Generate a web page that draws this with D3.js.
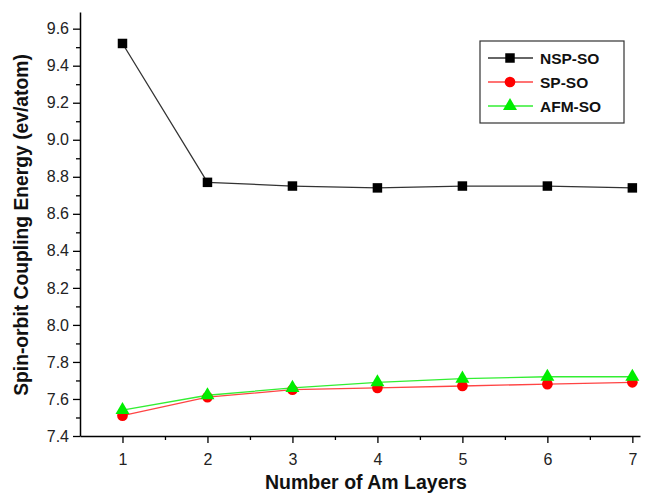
<!DOCTYPE html>
<html><head><meta charset="utf-8">
<script src="https://cdn.jsdelivr.net/npm/d3@7"></script>
<style>body{margin:0;background:#fff}svg{display:block}text{font-family:"Liberation Sans",Arial,sans-serif}</style>
</head><body><svg id="c" width="649" height="499"></svg>
<script>
const layers = [1,2,3,4,5,6,7];
const nspSO = [9.52, 8.77, 8.75, 8.74, 8.75, 8.75, 8.74];
const spSO  = [7.51, 7.61, 7.65, 7.66, 7.67, 7.68, 7.69];
const afmSO = [7.54, 7.62, 7.66, 7.69, 7.71, 7.72, 7.72];
const xTicks = [1,2,3,4,5,6,7];
const yTicks = [7.4,7.6,7.8,8.0,8.2,8.4,8.6,8.8,9.0,9.2,9.4,9.6];
const seriesNames = ["NSP-SO","SP-SO","AFM-SO"];
const seriesColors = ["#000000","#ff0000","#00ee00"];
const lineColors = ["#333333","#ff4444","#33ee33"];

const svg = d3.select("#c");
const L=80, R=640, T=12, B=436;
const x = d3.scaleLinear().domain([0.5,7.09]).range([L,R]);
const y = d3.scaleLinear().domain([7.4,9.69]).range([B,T]);

svg.append("g").attr("transform",`translate(0,${B})`)
  .call(d3.axisBottom(x).tickValues(xTicks).tickFormat(d3.format("d")).tickSize(7).tickSizeOuter(0).tickPadding(11));
svg.append("g").attr("transform",`translate(0,${B})`)
  .call(d3.axisBottom(x).tickValues([1.5,2.5,3.5,4.5,5.5,6.5]).tickFormat("").tickSize(4).tickSizeOuter(0))
  .select(".domain").remove();
svg.append("g").attr("transform",`translate(${L},0)`)
  .call(d3.axisLeft(y).tickValues(yTicks).tickFormat(d3.format(".1f")).tickSize(7).tickSizeOuter(0).tickPadding(4));
svg.append("g").attr("transform",`translate(${L},0)`)
  .call(d3.axisLeft(y).tickValues(d3.range(7.5,9.6,0.2)).tickFormat("").tickSize(4).tickSizeOuter(0))
  .select(".domain").remove();
svg.selectAll(".domain").attr("stroke","#000").attr("stroke-width",1.5);
svg.selectAll(".tick line").attr("stroke","#000").attr("stroke-width",1.3);
svg.selectAll(".tick text").attr("font-size",16).attr("fill","#222").style("font-family","Liberation Sans, Arial, sans-serif");

svg.append("text").attr("x",366).attr("y",489).attr("text-anchor","middle")
  .attr("font-size",19.5).attr("font-weight","bold").attr("fill","#111").text("Number of Am Layers");
svg.append("text").attr("transform","translate(28,225) rotate(-90)").attr("text-anchor","middle")
  .attr("font-size",19.3).attr("font-weight","bold").attr("fill","#111").text("Spin-orbit Coupling Energy (ev/atom)");

const data = [nspSO, spSO, afmSO];
const line = d3.line().x((d,i)=>x(layers[i])).y(d=>y(d));
const sq = d3.symbol().type(d3.symbolSquare).size(90);
const ci = d3.symbol().type(d3.symbolCircle).size(90);
const tr = d3.symbol().type(d3.symbolTriangle).size(85);
const syms=[sq,ci,tr];

data.forEach((vals,k)=>{
  svg.append("path").datum(vals).attr("d",line).attr("fill","none")
    .attr("stroke",lineColors[k]).attr("stroke-width",1.3);
});
data.forEach((vals,k)=>{
  svg.append("g").selectAll("path").data(vals).join("path")
    .attr("transform",(d,i)=>`translate(${x(layers[i])},${y(d)})`)
    .attr("d",syms[k]()).attr("fill",seriesColors[k]);
});

const lg = svg.append("g");
lg.append("rect").attr("x",480).attr("y",41).attr("width",144).attr("height",82)
  .attr("fill","#fff").attr("stroke","#333").attr("stroke-width",1.2);
seriesNames.forEach((n,k)=>{
  const yy = 58 + k*24;
  lg.append("line").attr("x1",488).attr("x2",533).attr("y1",yy).attr("y2",yy)
    .attr("stroke",lineColors[k]).attr("stroke-width",1.3);
  lg.append("path").attr("transform",`translate(510,${yy})`).attr("d",syms[k]()).attr("fill",seriesColors[k]);
  lg.append("text").attr("x",540).attr("y",yy+5.5).attr("font-size",15.5).attr("font-weight","bold")
    .attr("fill","#111").text(n);
});
</script></body></html>
